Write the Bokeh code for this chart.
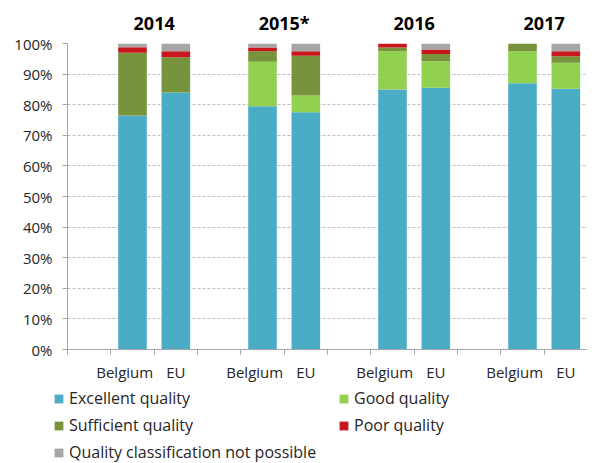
from bokeh.plotting import figure
from bokeh.layouts import column
from bokeh.models import (ColumnDataSource, FixedTicker, LinearAxis, Legend, LegendItem,
                          PrintfTickFormatter, Range1d)
from bokeh.embed import file_html
from bokeh.resources import INLINE

# ---- data ----
years = ["2014", "2015*", "2016", "2017"]
regions = ["Belgium", "EU"]
series = ["Excellent quality", "Good quality", "Sufficient quality", "Poor quality",
          "Quality classification not possible"]
excellent = [76.5, 84.0, 79.5, 77.5, 85.0, 85.5, 87.0, 85.2]
good = [0.0, 0.0, 14.5, 5.5, 12.5, 8.7, 10.5, 8.5]
sufficient = [20.5, 11.5, 3.5, 13.0, 1.2, 2.4, 2.5, 2.1]
poor = [1.8, 2.0, 1.2, 1.5, 1.3, 1.4, 0.0, 1.7]
not_possible = [1.2, 2.5, 1.3, 2.5, 0.0, 2.0, 0.0, 2.5]
y_ticks = list(range(0, 101, 10))

colors = ["#4BACC6", "#92D050", "#77933C", "#C8161D", "#A6A6A6"]
FONT = "Open Sans"
W = 587

# slot layout: one blank slot before each pair of bars
n_reg = len(regions)
x_pos = [g * (n_reg + 1) + 1.5 + r for g in range(len(years)) for r in range(n_reg)]
x_end = len(years) * (n_reg + 1)

keys = ["excellent", "good", "sufficient", "poor", "not_possible"]
source = ColumnDataSource(dict(x=x_pos, excellent=excellent, good=good,
                               sufficient=sufficient, poor=poor, not_possible=not_possible))

p = figure(width=W, height=387, output_backend="svg", toolbar_location=None,
           x_range=Range1d(0, x_end), y_range=Range1d(0, 100),
           min_border_left=67, min_border_right=0, min_border_top=43, min_border_bottom=38)
p.outline_line_color = None
p.background_fill_color = "white"
p.border_fill_color = "white"

renderers = p.vbar_stack(keys, x="x", width=0.66, color=colors, line_color=None, source=source)

# y axis
p.yaxis.ticker = FixedTicker(ticks=y_ticks)
p.yaxis.formatter = PrintfTickFormatter(format="%d%%")
p.yaxis.axis_line_color = "#A6A6A6"
p.yaxis.major_tick_line_color = "#A6A6A6"
p.yaxis.major_tick_out = 5
p.yaxis.major_tick_in = 0
p.yaxis.minor_tick_line_color = None
p.yaxis.major_label_text_font = FONT
p.yaxis.major_label_text_font_size = "15px"
p.yaxis.major_label_text_color = "#262626"
p.yaxis.major_label_standoff = 10

# x axis (below): labels per bar, tick marks at slot boundaries
label_pos = []
overrides = {}
for i, xv in enumerate(x_pos):
    r = i % n_reg
    pos = xv - 0.18 if r == 0 else xv
    label_pos.append(pos)
    overrides[pos] = regions[r]
p.xaxis.ticker = FixedTicker(ticks=label_pos, minor_ticks=list(range(0, x_end + 1)))
p.xaxis.major_label_overrides = overrides
p.xaxis.major_tick_line_color = None
p.xaxis.major_tick_out = 5
p.xaxis.major_tick_in = 0
p.xaxis.minor_tick_line_color = "#A6A6A6"
p.xaxis.minor_tick_out = 5
p.xaxis.minor_tick_in = 0
p.xaxis.axis_line_color = "#A6A6A6"
p.xaxis.major_label_text_font = FONT
p.xaxis.major_label_text_font_size = "15px"
p.xaxis.major_label_text_color = "#262626"
p.xaxis.major_label_standoff = 7

# year labels above
year_centers = [g * (n_reg + 1) + 1 + n_reg / 2 for g in range(len(years))]
top_axis = LinearAxis(ticker=FixedTicker(ticks=year_centers),
                      major_label_overrides={c: y for c, y in zip(year_centers, years)})
top_axis.axis_line_color = None
top_axis.major_tick_line_color = None
top_axis.major_tick_out = 0
top_axis.major_tick_in = 0
top_axis.minor_tick_line_color = None
top_axis.major_label_text_font = FONT
top_axis.major_label_text_font_size = "18px"
top_axis.major_label_text_font_style = "bold"
top_axis.major_label_text_color = "black"
top_axis.major_label_standoff = 9
p.add_layout(top_axis, "above")

# grid
p.xgrid.grid_line_color = None
p.ygrid.ticker = FixedTicker(ticks=y_ticks)
p.ygrid.grid_line_color = "#BFBFBF"
p.ygrid.grid_line_dash = "3 2"

# legend strip below the chart (own frame, not aligned with the chart frame)
lf = figure(width=W, height=76, output_backend="svg", toolbar_location=None,
            x_axis_location=None, y_axis_location=None,
            x_range=Range1d(0, 1), y_range=Range1d(0, 1), min_border=0)
lf.outline_line_color = None
lf.xgrid.grid_line_color = None
lf.ygrid.grid_line_color = None
for fig in (p, lf):
    if "frame_align" in fig.properties():
        fig.frame_align = False
# swatch renderers share the data; they fall outside this strip's view
swatches = lf.vbar_stack(keys, x="x", width=0.66, color=colors, line_color=None, source=source)

order = [0, 2, 4, 1, 3]
legend = Legend(items=[LegendItem(label=series[i], renderers=[swatches[i]]) for i in order],
                location=(53, 0), orientation="vertical", nrows=3,
                padding=0, margin=0, spacing=5,
                glyph_width=11, glyph_height=11, label_standoff=5, label_height=16,
                label_width=264,
                label_text_font=FONT, label_text_font_size="16px", label_text_color="#262626",
                background_fill_alpha=0, border_line_alpha=0)
lf.add_layout(legend, "center")

layout = column(p, lf, spacing=0)
open("out.html", "w").write(file_html(layout, INLINE))
